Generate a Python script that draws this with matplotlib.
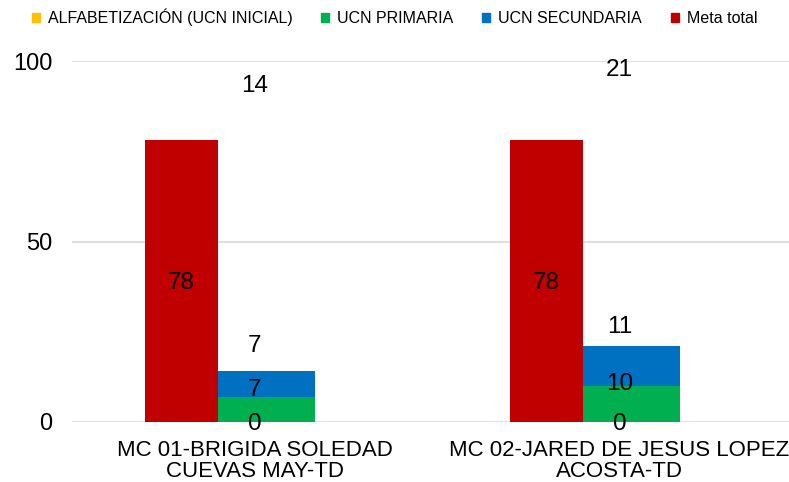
import matplotlib.pyplot as plt
import numpy as np

plt.rcParams['font.family'] = ['Liberation Sans', 'DejaVu Sans']

categorias = ["MC 01-BRIGIDA SOLEDAD\nCUEVAS MAY-TD", "MC 02-JARED DE JESUS LOPEZ\nACOSTA-TD"]
alfabetizacion = [0, 0]
primaria = [7, 10]
secundaria = [7, 11]
meta_total = [78, 78]
totales = [14, 21]

series_nombres = ["ALFABETIZACIÓN (UCN INICIAL)", "UCN PRIMARIA", "UCN SECUNDARIA", "Meta total"]
colores = ["#FFC000", "#00B050", "#0070C0", "#C00000"]

fig = plt.figure(figsize=(7.89, 4.82), dpi=100)
ax = fig.add_axes([72 / 789, 60 / 482, 730 / 789, 361 / 482])

x = np.arange(len(categorias))
alf = np.array(alfabetizacion)
pri = np.array(primaria)
sec = np.array(secundaria)

# barra de meta a la izquierda, barra apilada a la derecha
ax.bar(x - 0.30, meta_total, width=0.20, align='edge', color=colores[3], zorder=2)
ax.bar(x - 0.10, alf, width=0.265, align='edge', color=colores[0], zorder=2)
ax.bar(x - 0.10, pri, width=0.265, align='edge', bottom=alf, color=colores[1], zorder=2)
ax.bar(x - 0.10, sec, width=0.265, align='edge', bottom=alf + pri, color=colores[2], zorder=2)

fs = 16
fn = 17.5
for i in range(len(categorias)):
    ax.text(x[i] - 0.20, meta_total[i] / 2 - 0.5, str(meta_total[i]), ha='center', va='center', fontsize=fn)
    ax.text(x[i], alf[i] - 0.6, str(alf[i]), ha='center', va='center', fontsize=fn)
    ax.text(x[i], alf[i] + pri[i] + [2.0, 0.5][i], str(pri[i]), ha='center', va='center', fontsize=fn)
    ax.text(x[i], alf[i] + pri[i] + sec[i] + [7.0, 5.3][i], str(sec[i]), ha='center', va='center', fontsize=fn)
    ax.text(x[i], [93.0, 97.5][i], str(totales[i]), ha='center', va='center', fontsize=fn)

ax.set_xlim(-0.5, 1.5)
ax.set_ylim(0, 100)
ax.set_yticks([0, 50, 100])
ax.set_xticks(x)
ax.set_xticklabels(categorias, fontsize=fs, linespacing=1.0)
ax.tick_params(axis='both', length=0)
ax.tick_params(axis='y', pad=14, labelsize=17)
ax.tick_params(axis='x', pad=13, labelsize=fs)
ax.grid(axis='y', color='#D9D9D9', linewidth=1.2, zorder=0)
for s in ax.spines.values():
    s.set_visible(False)

handles = [plt.Rectangle((0, 0), 1, 1, color=c) for c in colores]
fig.legend(handles, series_nombres, loc='center left', bbox_to_anchor=(32 / 789, 1 - 17 / 482), ncol=4,
           frameon=False, fontsize=11.5, handlelength=0.5, handleheight=0.5,
           handletextpad=0.5, columnspacing=1.8, borderpad=0, borderaxespad=0)

fig.savefig("out.png", dpi=100)
